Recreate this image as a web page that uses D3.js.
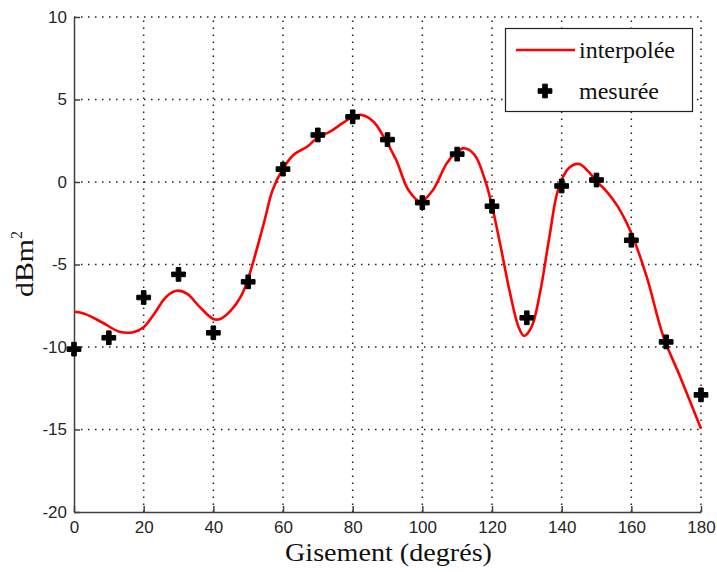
<!DOCTYPE html>
<html><head><meta charset="utf-8">
<script src="https://cdn.jsdelivr.net/npm/d3@7"></script>
<style>body{margin:0;background:#fff}svg{display:block}</style>
</head><body>
<svg id="c" width="717" height="572"></svg>
<script>
// measured points
const measAngles = [0,10,20,30,40,50,60,70,80,90,100,110,120,130,140,150,160,170,180];
const measValues = [-10.13,-9.44,-7.0,-5.6,-9.14,-6.05,0.78,2.85,3.95,2.57,-1.25,1.69,-1.47,-8.23,-0.24,0.12,-3.53,-9.69,-12.9];
// interpolated curve
const interpAngles = [0,3,8,13,17,20,23,26.5,29.5,32.5,36,40,42,45,48,50,54.5,57,60,63,67,70,73.5,77,80,82.6,86,89,92.5,96,99.5,103,107,109.5,112,115,118,120,122.3,125.2,127.6,129.2,131.4,133.8,136.5,139,142,145,147.7,150,153,156,160,164.4,169.2,174,180];
const interpValues = [-7.86,-7.98,-8.5,-9.07,-9.1,-8.8,-8.0,-6.95,-6.59,-6.78,-7.55,-8.3,-8.3,-7.8,-6.9,-5.85,-2.5,-0.5,0.8,1.64,2.15,2.7,3.05,3.55,3.95,4.06,3.65,2.7,1.33,-0.48,-1.19,-0.5,1.13,1.74,2.05,1.64,0.12,-1.45,-3.72,-6.75,-8.77,-9.33,-8.77,-6.7,-3.3,-0.45,0.83,1.09,0.63,0.05,-0.6,-1.45,-3.1,-5.74,-9.37,-11.8,-14.95];
const xTicks = [0,20,40,60,80,100,120,140,160,180];
const yTicks = [-20,-15,-10,-5,0,5,10];
const legendLabels = ["interpolée","mesurée"];
const xLabel = "Gisement (degrés)";

const svg = d3.select("#c");
const x = d3.scaleLinear().domain([0,180]).range([74,701]);
const y = d3.scaleLinear().domain([-20,10]).range([512,17]);

// grid
const grid = svg.append("g").attr("stroke","#222").attr("stroke-width",1.5).attr("stroke-dasharray","1.5,5.5");
grid.selectAll(".gx").data(xTicks.filter(d=>d>0)).join("line")
  .attr("x1",d=>x(d)).attr("x2",d=>x(d)).attr("y1",y(-20)).attr("y2",y(10));
grid.selectAll(".gy").data(yTicks.filter(d=>d>-20)).join("line")
  .attr("y1",d=>y(d)).attr("y2",d=>y(d)).attr("x1",x(0)).attr("x2",x(180));

// axes
const fmt = d => String(d);
const gx = svg.append("g").attr("transform",`translate(0,${y(-20)})`)
  .call(d3.axisBottom(x).tickValues(xTicks).tickFormat(fmt).tickSizeInner(-6).tickSizeOuter(0).tickPadding(9));
const gy = svg.append("g").attr("transform",`translate(${x(0)},0)`)
  .call(d3.axisLeft(y).tickValues(yTicks).tickFormat(fmt).tickSizeInner(-6).tickSizeOuter(0).tickPadding(7));
[gx,gy].forEach(g=>{
  g.select(".domain").attr("stroke","#404040").attr("stroke-width",1.5);
  g.selectAll(".tick line").attr("stroke","#404040").attr("stroke-width",1.5);
  g.selectAll(".tick text").attr("fill","#262626").style("font-family","'Liberation Sans',Arial,sans-serif").style("font-size","17px");
});

// curve
const line = d3.line().x((d,i)=>x(interpAngles[i])).y(d=>y(d)).curve(d3.curveCatmullRom.alpha(0.5));
svg.append("path").attr("d",line(interpValues)).attr("fill","none").attr("stroke","#ff0000").attr("stroke-width",2.6);

// markers
const sym = d3.symbol().type(d3.symbolCross).size(105);
svg.selectAll(".m").data(measValues).join("path")
  .attr("transform",(d,i)=>`translate(${x(measAngles[i])},${y(d)})`)
  .attr("d",sym).attr("fill","#000").attr("stroke","#000").attr("stroke-width",1);

// legend
const lg = svg.append("g");
lg.append("rect").attr("x",505.5).attr("y",28.5).attr("width",187).attr("height",83).attr("fill","#fff").attr("stroke","#222").attr("stroke-width",1.2);
lg.append("line").attr("x1",516).attr("x2",575).attr("y1",50).attr("y2",50).attr("stroke","#ff0000").attr("stroke-width",2.6);
lg.append("path").attr("transform","translate(545,91)").attr("d",sym).attr("fill","#000").attr("stroke","#000").attr("stroke-width",1);
lg.selectAll("text").data(legendLabels).join("text")
  .attr("x",579).attr("y",(d,i)=>i===0?58:99).text(d=>d)
  .style("font-family","'Liberation Serif','Times New Roman',serif").style("font-size","24px").attr("fill","#111");

// axis labels
svg.append("text").attr("x",388.5).attr("y",561).attr("text-anchor","middle")
  .attr("textLength",207).attr("lengthAdjust","spacingAndGlyphs")
  .style("font-family","'Liberation Serif','Times New Roman',serif").style("font-size","25px").attr("fill","#111").text(xLabel);
const yl = svg.append("text").attr("transform","translate(33,297) rotate(-90)")
  .style("font-family","'Liberation Serif','Times New Roman',serif").style("font-size","25px").attr("fill","#111");
yl.append("tspan").text("dBm").attr("textLength",58).attr("lengthAdjust","spacingAndGlyphs");
yl.append("tspan").text("2").attr("dy",-11).style("font-size","16px");
</script>
</body></html>
